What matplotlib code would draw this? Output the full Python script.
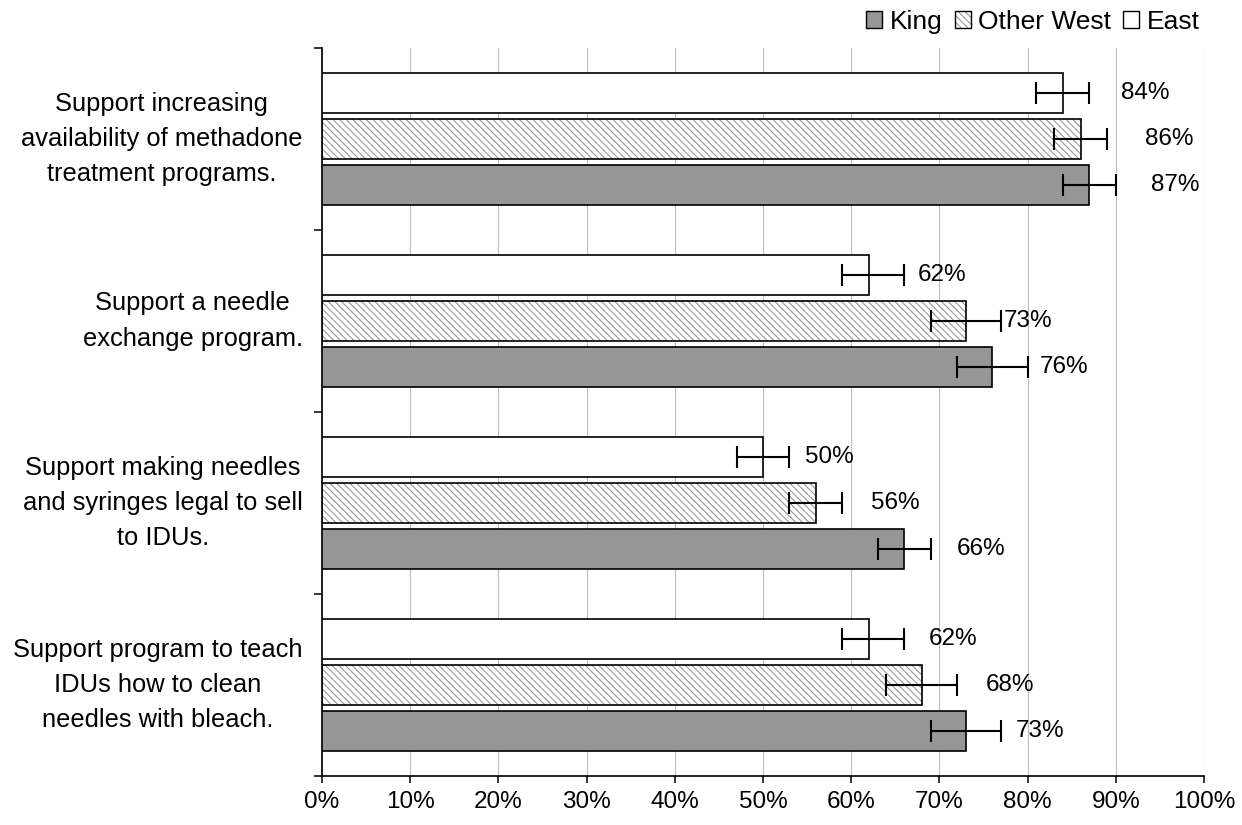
import matplotlib.pyplot as plt
from matplotlib.patches import Patch

plt.rcParams['font.family'] = ['Liberation Sans', 'DejaVu Sans']
plt.rcParams['hatch.color'] = '#9a9a9a'
plt.rcParams['hatch.linewidth'] = 0.8

# survey items, top to bottom
questions = [
    'Support increasing\navailability of methadone\ntreatment programs.',
    'Support a needle\nexchange program.',
    'Support making needles\nand syringes legal to sell\nto IDUs.',
    'Support program to teach\nIDUs how to clean\nneedles with bleach.',
]

# percent agreeing, with lower / upper confidence limits
east = [84, 62, 50, 62]
east_lo = [81, 59, 47, 59]
east_hi = [87, 66, 53, 66]

west = [86, 73, 56, 68]
west_lo = [83, 69, 53, 64]
west_hi = [89, 77, 59, 72]

king = [87, 76, 66, 73]
king_lo = [84, 72, 63, 69]
king_hi = [90, 80, 69, 77]

# how far right of the bar end each value label sits (in % units)
pad_east = [6.6, 5.5, 4.8, 6.8]
pad_west = [7.3, 4.3, 6.2, 7.2]
pad_king = [7.0, 5.4, 6.0, 5.6]

FS = 17.5
fig = plt.figure(figsize=(12.42, 8.25), dpi=100)
ax = fig.add_axes([0.2593, 0.0594, 0.9694 - 0.2593, 0.9418 - 0.0594])

ys = list(range(len(questions)))
h = 0.22
step = 0.255
HATCH = '\\' * 5

def draw_series(vals, lo, hi, pads, off, color, hatch=None):
    pos = [y + off for y in ys]
    if hatch:
        # hatch fill first (no edge so the hatch keeps its grey), then outline
        ax.barh(pos, vals, height=h, color='white', hatch=hatch, linewidth=0, zorder=2)
        ax.barh(pos, vals, height=h, fill=False, edgecolor='black', linewidth=1.2, zorder=3)
    else:
        ax.barh(pos, vals, height=h, color=color, edgecolor='black', linewidth=1.2, zorder=3)
    err = [[v - l for v, l in zip(vals, lo)], [u - v for v, u in zip(vals, hi)]]
    ax.errorbar(vals, pos, xerr=err, fmt='none', ecolor='black', elinewidth=1.5,
                capsize=8, capthick=1.5, zorder=4)
    for v, p, y in zip(vals, pads, pos):
        ax.text(v + p, y, f'{v}%', ha='left', va='center', fontsize=FS, zorder=5)

draw_series(east, east_lo, east_hi, pad_east, -step, 'white')
draw_series(west, west_lo, west_hi, pad_west, 0.0, 'white', hatch=HATCH)
draw_series(king, king_lo, king_hi, pad_king, step, '#969696')

ax.set_xlim(0, 100)
ax.set_ylim(len(questions) - 0.5, -0.5)

ax.set_xticks(range(0, 101, 10))
ax.set_xticklabels([f'{t}%' for t in range(0, 101, 10)], fontsize=FS)
ax.xaxis.grid(True, color='#c0c0c0', linewidth=0.8, zorder=0)
ax.set_axisbelow(True)

# group separators as major ticks, question text as minor tick labels
ax.set_yticks([y - 0.5 for y in range(len(questions) + 1)])
ax.set_yticklabels([])
ax.set_yticks(ys, minor=True)
ax.set_yticklabels(questions, minor=True, fontsize=18.4, ha='right', va='center',
                   multialignment='center', linespacing=1.6)
ax.tick_params(axis='y', which='minor', length=0, pad=14)
ax.tick_params(axis='y', which='major', length=6, width=1.1, direction='out')
ax.tick_params(axis='x', length=5, width=1.1, direction='out', pad=6)

for s in ['top', 'right']:
    ax.spines[s].set_visible(False)
for s in ['left', 'bottom']:
    ax.spines[s].set_linewidth(1.2)

h_king = Patch(facecolor='#969696', edgecolor='black', linewidth=1.0)
h_west = (Patch(facecolor='white', hatch=HATCH, linewidth=0),
          Patch(fill=False, edgecolor='black', linewidth=1.0))
h_east = Patch(facecolor='white', edgecolor='black', linewidth=1.0)
fig.legend([h_king, h_west, h_east], ['King', 'Other West', 'East'],
           loc='upper right', bbox_to_anchor=(0.979, 1.007), ncol=3, frameon=False,
           fontsize=19, handlelength=0.6, handleheight=0.6, handletextpad=0.3,
           columnspacing=0.45, borderaxespad=0.2)

fig.savefig('out.png', dpi=100)
